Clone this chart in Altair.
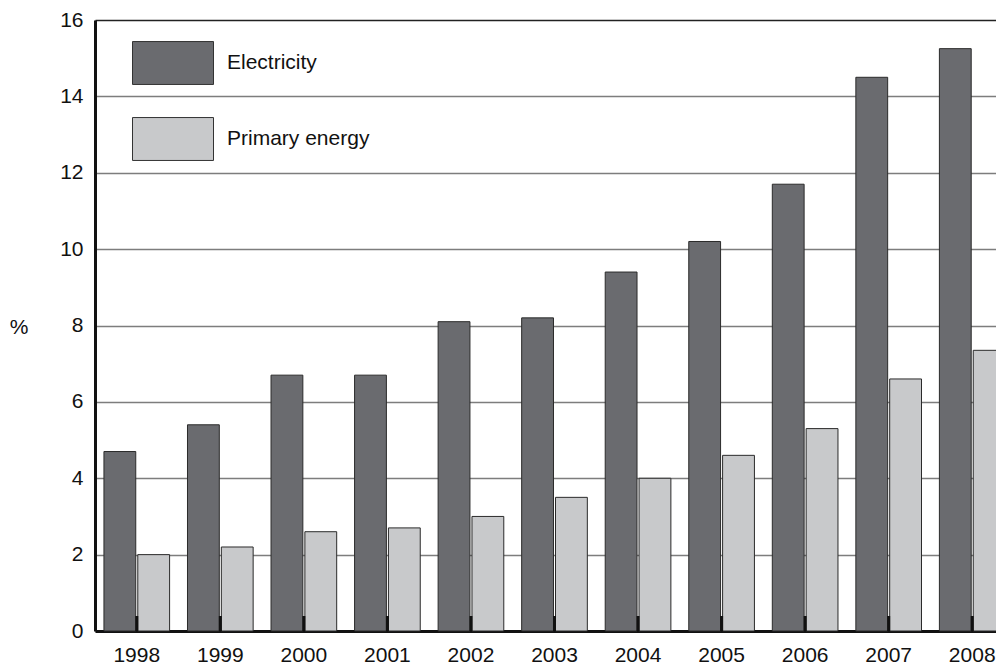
import altair as alt
import pandas as pd

years = [str(y) for y in range(1998, 2009)]
electricity = [4.7, 5.4, 6.7, 6.7, 8.1, 8.2, 9.4, 10.2, 11.7, 14.5, 15.25]
primary = [2.0, 2.2, 2.6, 2.7, 3.0, 3.5, 4.0, 4.6, 5.3, 6.6, 7.35]
series = ["Electricity", "Primary energy"]
colors = ["#6a6b6f", "#c8c9cb"]
y_ticks = [0, 2, 4, 6, 8, 10, 12, 14, 16]

rows = []
for i, yr in enumerate(years):
    rows.append({"year": yr, "series": series[0], "value": electricity[i]})
    rows.append({"year": yr, "series": series[1], "value": primary[i]})
df = pd.DataFrame(rows)
ticks_df = pd.DataFrame({"year": years})

FONT = "Liberation Sans"

x_enc = alt.X(
    "year:N",
    sort=years,
    scale=alt.Scale(range=[0, 919], paddingInner=0.214, paddingOuter=0.107),
    axis=alt.Axis(
        title=None, labelAngle=0, ticks=False, domainColor="#111", domainWidth=3,
        labelFontSize=21, labelPadding=13, labelColor="#111", labelFont=FONT,
    ),
)

bars = alt.Chart(df).mark_bar(stroke="#2b2b2b", strokeWidth=1).encode(
    x=x_enc,
    xOffset=alt.XOffset("series:N", sort=series, scale=alt.Scale(paddingInner=0.06)),
    y=alt.Y(
        "value:Q",
        scale=alt.Scale(domain=[0, 16], nice=False),
        axis=alt.Axis(
            values=y_ticks, title="%", titleAngle=0, titleAlign="right",
            titleBaseline="middle", titleX=-67, titleY=307, titleFontSize=21,
            titleFontWeight="normal", titleFont=FONT, titleColor="#111",
            ticks=False, labelPadding=12, labelFontSize=21, labelFont=FONT,
            labelColor="#111", domainColor="#111", domainWidth=3,
            gridColor={"condition": {"test": "datum.value === 16", "value": "#222"}, "value": "#7d7d7d"},
            gridWidth=1.5,
        ),
    ),
    color=alt.Color(
        "series:N",
        scale=alt.Scale(domain=series, range=colors),
        legend=alt.Legend(
            title=None, orient="none", legendX=37, legendY=2,
            symbolType="M-1,-0.53H1V0.53H-1Z", symbolSize=6561,
            symbolStrokeColor="#333", symbolStrokeWidth=1, symbolOpacity=1,
            labelFontSize=21, labelFont=FONT, labelOffset=13, rowPadding=11,
            padding=0, labelColor="#111",
        ),
    ),
)

ticks = alt.Chart(ticks_df).mark_rule(color="#111", strokeWidth=3).encode(
    x=alt.X("year:N", sort=years),
    y=alt.value(596),
    y2=alt.value(611),
)

chart = alt.layer(bars, ticks).properties(
    width=901,
    height=611,
    autosize=alt.AutoSizeParams(type="none"),
    padding={"left": 87, "top": 12, "right": 0, "bottom": 33},
).configure_view(stroke=None).configure(font=FONT)

chart.save("out.html", embed_options={"renderer": "svg", "actions": False})
